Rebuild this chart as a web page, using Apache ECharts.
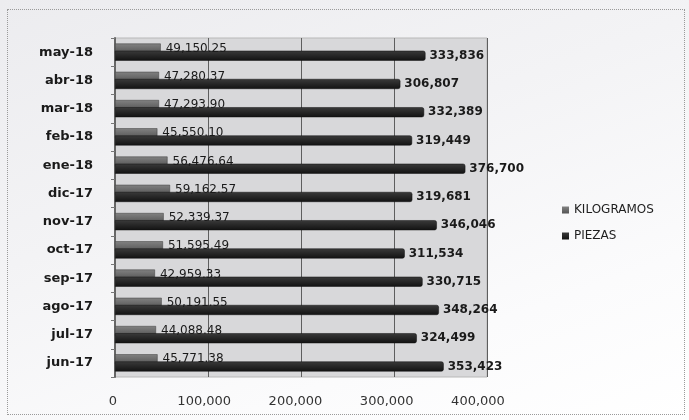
<!DOCTYPE html>
<html>
<head>
<meta charset="utf-8">
<script src="https://cdn.jsdelivr.net/npm/echarts@6/dist/echarts.min.js"></script>
<style>
html,body{margin:0;padding:0;background:#fff;}
#wrap{position:relative;width:689px;height:420px;background:linear-gradient(160deg,#ececef 0%,#f3f3f5 40%,#fbfbfc 75%,#ffffff 100%);}
#chart{position:absolute;left:0;top:0;width:689px;height:420px;}
#frame{position:absolute;left:7px;top:9px;width:676px;height:404px;border:1px dotted #9a9a9a;pointer-events:none;}
</style>
</head>
<body>
<div id="wrap"><div id="chart"></div><div id="frame"></div></div>
<script>
var categories = ['jun-17','jul-17','ago-17','sep-17','oct-17','nov-17','dic-17','ene-18','feb-18','mar-18','abr-18','may-18'];
var kilogramos = [45771.38,44088.48,50191.55,42959.33,51595.49,52339.37,59162.57,56476.64,45550.10,47293.90,47280.37,49150.25];
var piezas = [353423,324499,348264,330715,311534,346046,319681,376700,319449,332389,306807,333836];
var xTicks = [0,100000,200000,300000,400000];

var chart = echarts.init(document.getElementById('chart'), null, {renderer:'canvas'});
function fmt2(v){return v.toLocaleString('en-US',{minimumFractionDigits:2,maximumFractionDigits:2});}
function fmt0(v){return v.toLocaleString('en-US');}
var option = {
  animation:false,
  backgroundColor:'transparent',
  legend:{
    orient:'vertical', left:557, top:199, itemWidth:7, itemHeight:7, itemGap:14,
    icon:'rect',
    itemStyle:{borderWidth:0},
    textStyle:{fontFamily:'DejaVu Sans', fontSize:12, color:'#1e1e1e'},
    data:['KILOGRAMOS','PIEZAS']
  },
  grid:[
    {left:115, right:202, top:38, bottom:43, show:true, backgroundColor:'#d8d8da', borderColor:'#b8b8b8', borderWidth:1},
    {left:113, right:211, top:38, bottom:43, show:false}
  ],
  xAxis:[
    {type:'value', gridIndex:0, min:xTicks[0], max:xTicks[xTicks.length-1], interval:100000,
     axisLabel:{show:false}, axisTick:{show:false}, axisLine:{show:false},
     splitLine:{show:true, lineStyle:{color:'#5e5e5e', width:1}}},
    {type:'value', gridIndex:1, min:xTicks[0], max:xTicks[xTicks.length-1], interval:100000,
     axisLabel:{show:true, margin:18, fontFamily:'DejaVu Sans', fontSize:13, color:'#333',
       formatter:function(v){return fmt0(v);}},
     axisTick:{show:false}, axisLine:{show:false}, splitLine:{show:false}}
  ],
  yAxis:[
    {type:'category', gridIndex:0, data:categories,
     axisLine:{show:true, lineStyle:{color:'#666', width:2}},
     axisTick:{show:true, length:4, lineStyle:{color:'#777'}},
     axisLabel:{margin:22, fontFamily:'DejaVu Sans', fontWeight:'bold', fontSize:13, color:'#1a1a1a'}},
    {type:'category', gridIndex:1, data:categories, show:false}
  ],
  series:[
    {name:'KILOGRAMOS', type:'bar', xAxisIndex:0, yAxisIndex:0, data:kilogramos,
     barWidth:10, barGap:'-28%',
     itemStyle:{color:new echarts.graphic.LinearGradient(0,0,0,1,[{offset:0,color:'#828282'},{offset:1,color:'#545454'}]), borderColor:'#3a3a3a', borderWidth:0.5},
     label:{show:true, position:'right', distance:5, fontFamily:'DejaVu Sans', fontSize:12, color:'#1a1a1a',
       formatter:function(p){return fmt2(p.value);}}},
    {name:'PIEZAS', type:'bar', xAxisIndex:0, yAxisIndex:0, data:piezas,
     barWidth:10,
     itemStyle:{color:new echarts.graphic.LinearGradient(0,0,0,1,[{offset:0,color:'#3a3a3a'},{offset:1,color:'#121212'}]), borderColor:'#111', borderWidth:0.5, borderRadius:[0,2,2,0]},
     label:{show:true, position:'right', distance:4, fontFamily:'DejaVu Sans', fontWeight:'bold', fontSize:12, color:'#1a1a1a',
       formatter:function(p){return fmt0(p.value);}}}
  ],
  color:['#6e6e6e','#1e1e1e']
};
chart.setOption(option);
</script>
</body>
</html>
